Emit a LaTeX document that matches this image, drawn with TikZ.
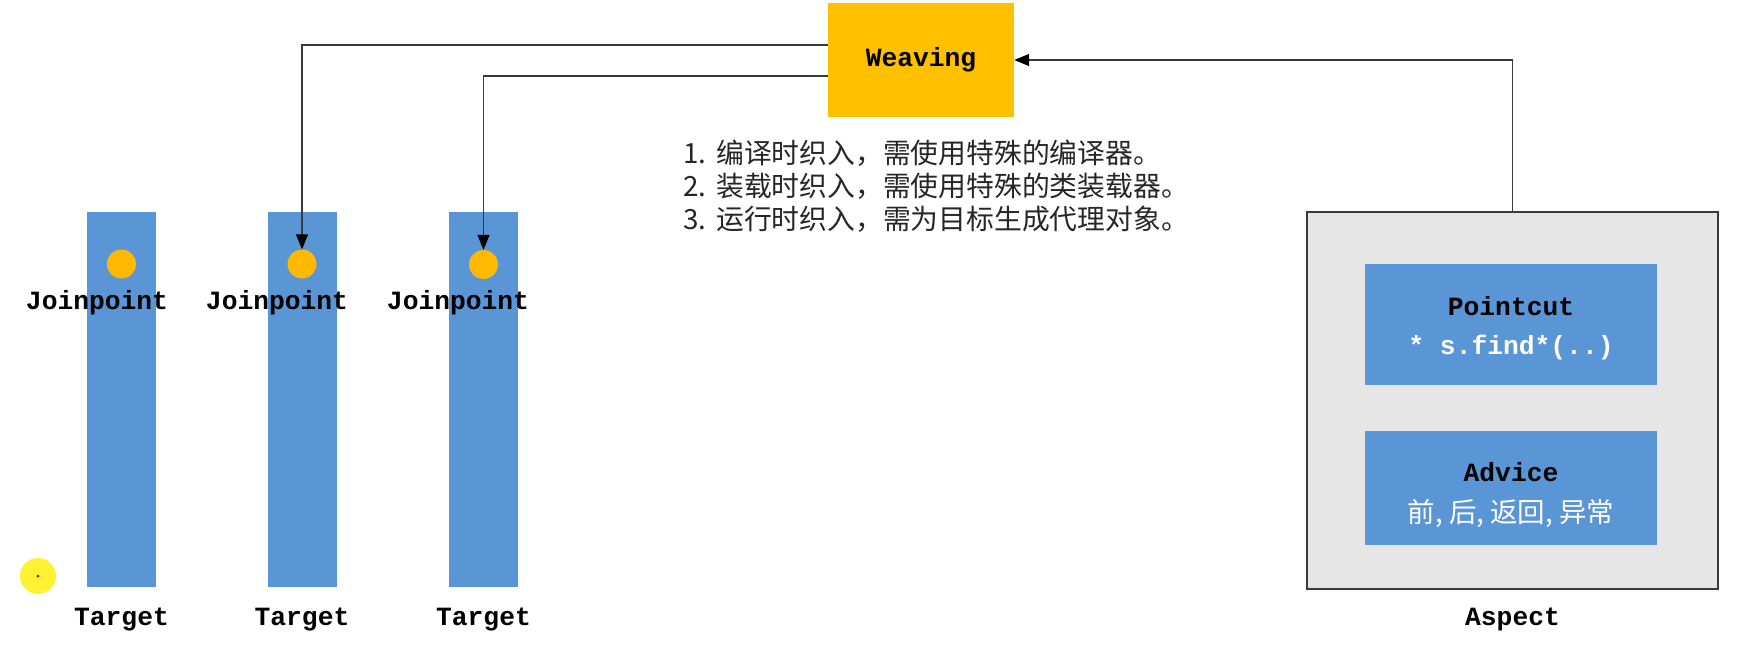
\documentclass[tikz,border=0pt]{standalone}
\usepackage{fontspec}
\setmainfont{Liberation Sans}
\newfontfamily\cjk{Noto Sans CJK SC}
\newfontfamily\mono{Liberation Mono}
\usetikzlibrary{arrows.meta}
\definecolor{barblue}{HTML}{5A95D6}
\definecolor{dotorange}{HTML}{FFB900}
\definecolor{weaveorange}{HTML}{FFC000}
\definecolor{aspectgray}{HTML}{E7E6E6}
\definecolor{linegray}{HTML}{3A3A3A}
\definecolor{cursoryellow}{HTML}{FFF233}
\tikzset{
  bar/.style={fill=barblue, draw=none, minimum width=69pt, minimum height=375pt, inner sep=0pt},
  jdot/.style={circle, fill=dotorange, draw=none, minimum size=29pt, inner sep=0pt},
  monolbl/.style={font=\mono\bfseries\fontsize{26.3}{30}\selectfont, text=black, inner sep=0pt},
  innerbox/.style={fill=barblue, draw=none, minimum width=292pt, inner sep=0pt},
  listline/.style={font=\cjk\fontsize{27.8}{32}\selectfont, text=black!85, anchor=west, inner sep=0pt},
  conn/.style={draw=linegray, line width=1.2pt, -{Triangle[length=15pt,width=12pt,color=black]}}
}
\begin{document}
\begin{tikzpicture}[x=1pt,y=-1pt]
\useasboundingbox (0,0) rectangle (1746,658);
% Weaving
\node[fill=weaveorange, minimum width=186pt, minimum height=114pt, inner sep=0pt] (weave) at (921,60) {};
\node[monolbl] (weavet) at (921,60) {Weaving};
% Targets
\node[bar] (b1) at (121.5,399.5) {};
\node[bar] (b2) at (302,399.5) {};
\node[bar] (b3) at (483.5,399.5) {};
\node[jdot] (c1) at (121.5,264) {};
\node[jdot] (c2) at (302,264) {};
\node[jdot] (c3) at (483.5,264.5) {};
\node[monolbl] (j1) at (97,303) {Joinpoint};
\node[monolbl] (j2) at (277,303) {Joinpoint};
\node[monolbl] (j3) at (458,303) {Joinpoint};
\node[monolbl] (t1) at (121.5,620) {Target};
\node[monolbl] (t2) at (302,620) {Target};
\node[monolbl] (t3) at (483.5,620) {Target};
% cursor highlight
\node[circle, fill=cursoryellow, minimum size=36pt, inner sep=0pt] (cur) at (38,576) {};
\node[circle, fill=red!70!black, minimum size=3pt, inner sep=0pt] (curdot) at (38,576) {};
% list
\node[listline] (l1) at (683,153) {\makebox[33pt][l]{1.}编译时织入，需使用特殊的编译器。};
\node[listline] (l2) at (683,186) {\makebox[33pt][l]{2.}装载时织入，需使用特殊的类装载器。};
\node[listline] (l3) at (683,219) {\makebox[33pt][l]{3.}运行时织入，需为目标生成代理对象。};
% Aspect
\node[fill=aspectgray, draw=linegray, line width=1.2pt, minimum width=411pt, minimum height=377pt, inner sep=0pt] (aspect) at (1512.5,400.5) {};
\node[innerbox, minimum height=121pt] (pc) at (1511,324.5) {};
\node[monolbl, text=black] (pct) at (1511,306) {Pointcut};
\node[monolbl, text=white] (pce) at (1511,348) {* s.find*(..)};
\node[innerbox, minimum height=114pt] (adv) at (1511,488) {};
\node[monolbl, text=black] (advt) at (1511,472) {Advice};
\node[font=\cjk\fontsize{27.5}{32}\selectfont, text=white, inner sep=0pt] (advc) at (1511,513) {前, 后, 返回, 异常};
\node[monolbl] (asp) at (1512.5,619) {Aspect};
% connectors
\draw[conn] ([yshift=15pt]weave.west) -| (c2.north);
\draw[conn] ([yshift=-16pt]weave.west) -| (c3.north);
\draw[conn] (aspect.north) |- (weave.east);
\end{tikzpicture}
\end{document}
